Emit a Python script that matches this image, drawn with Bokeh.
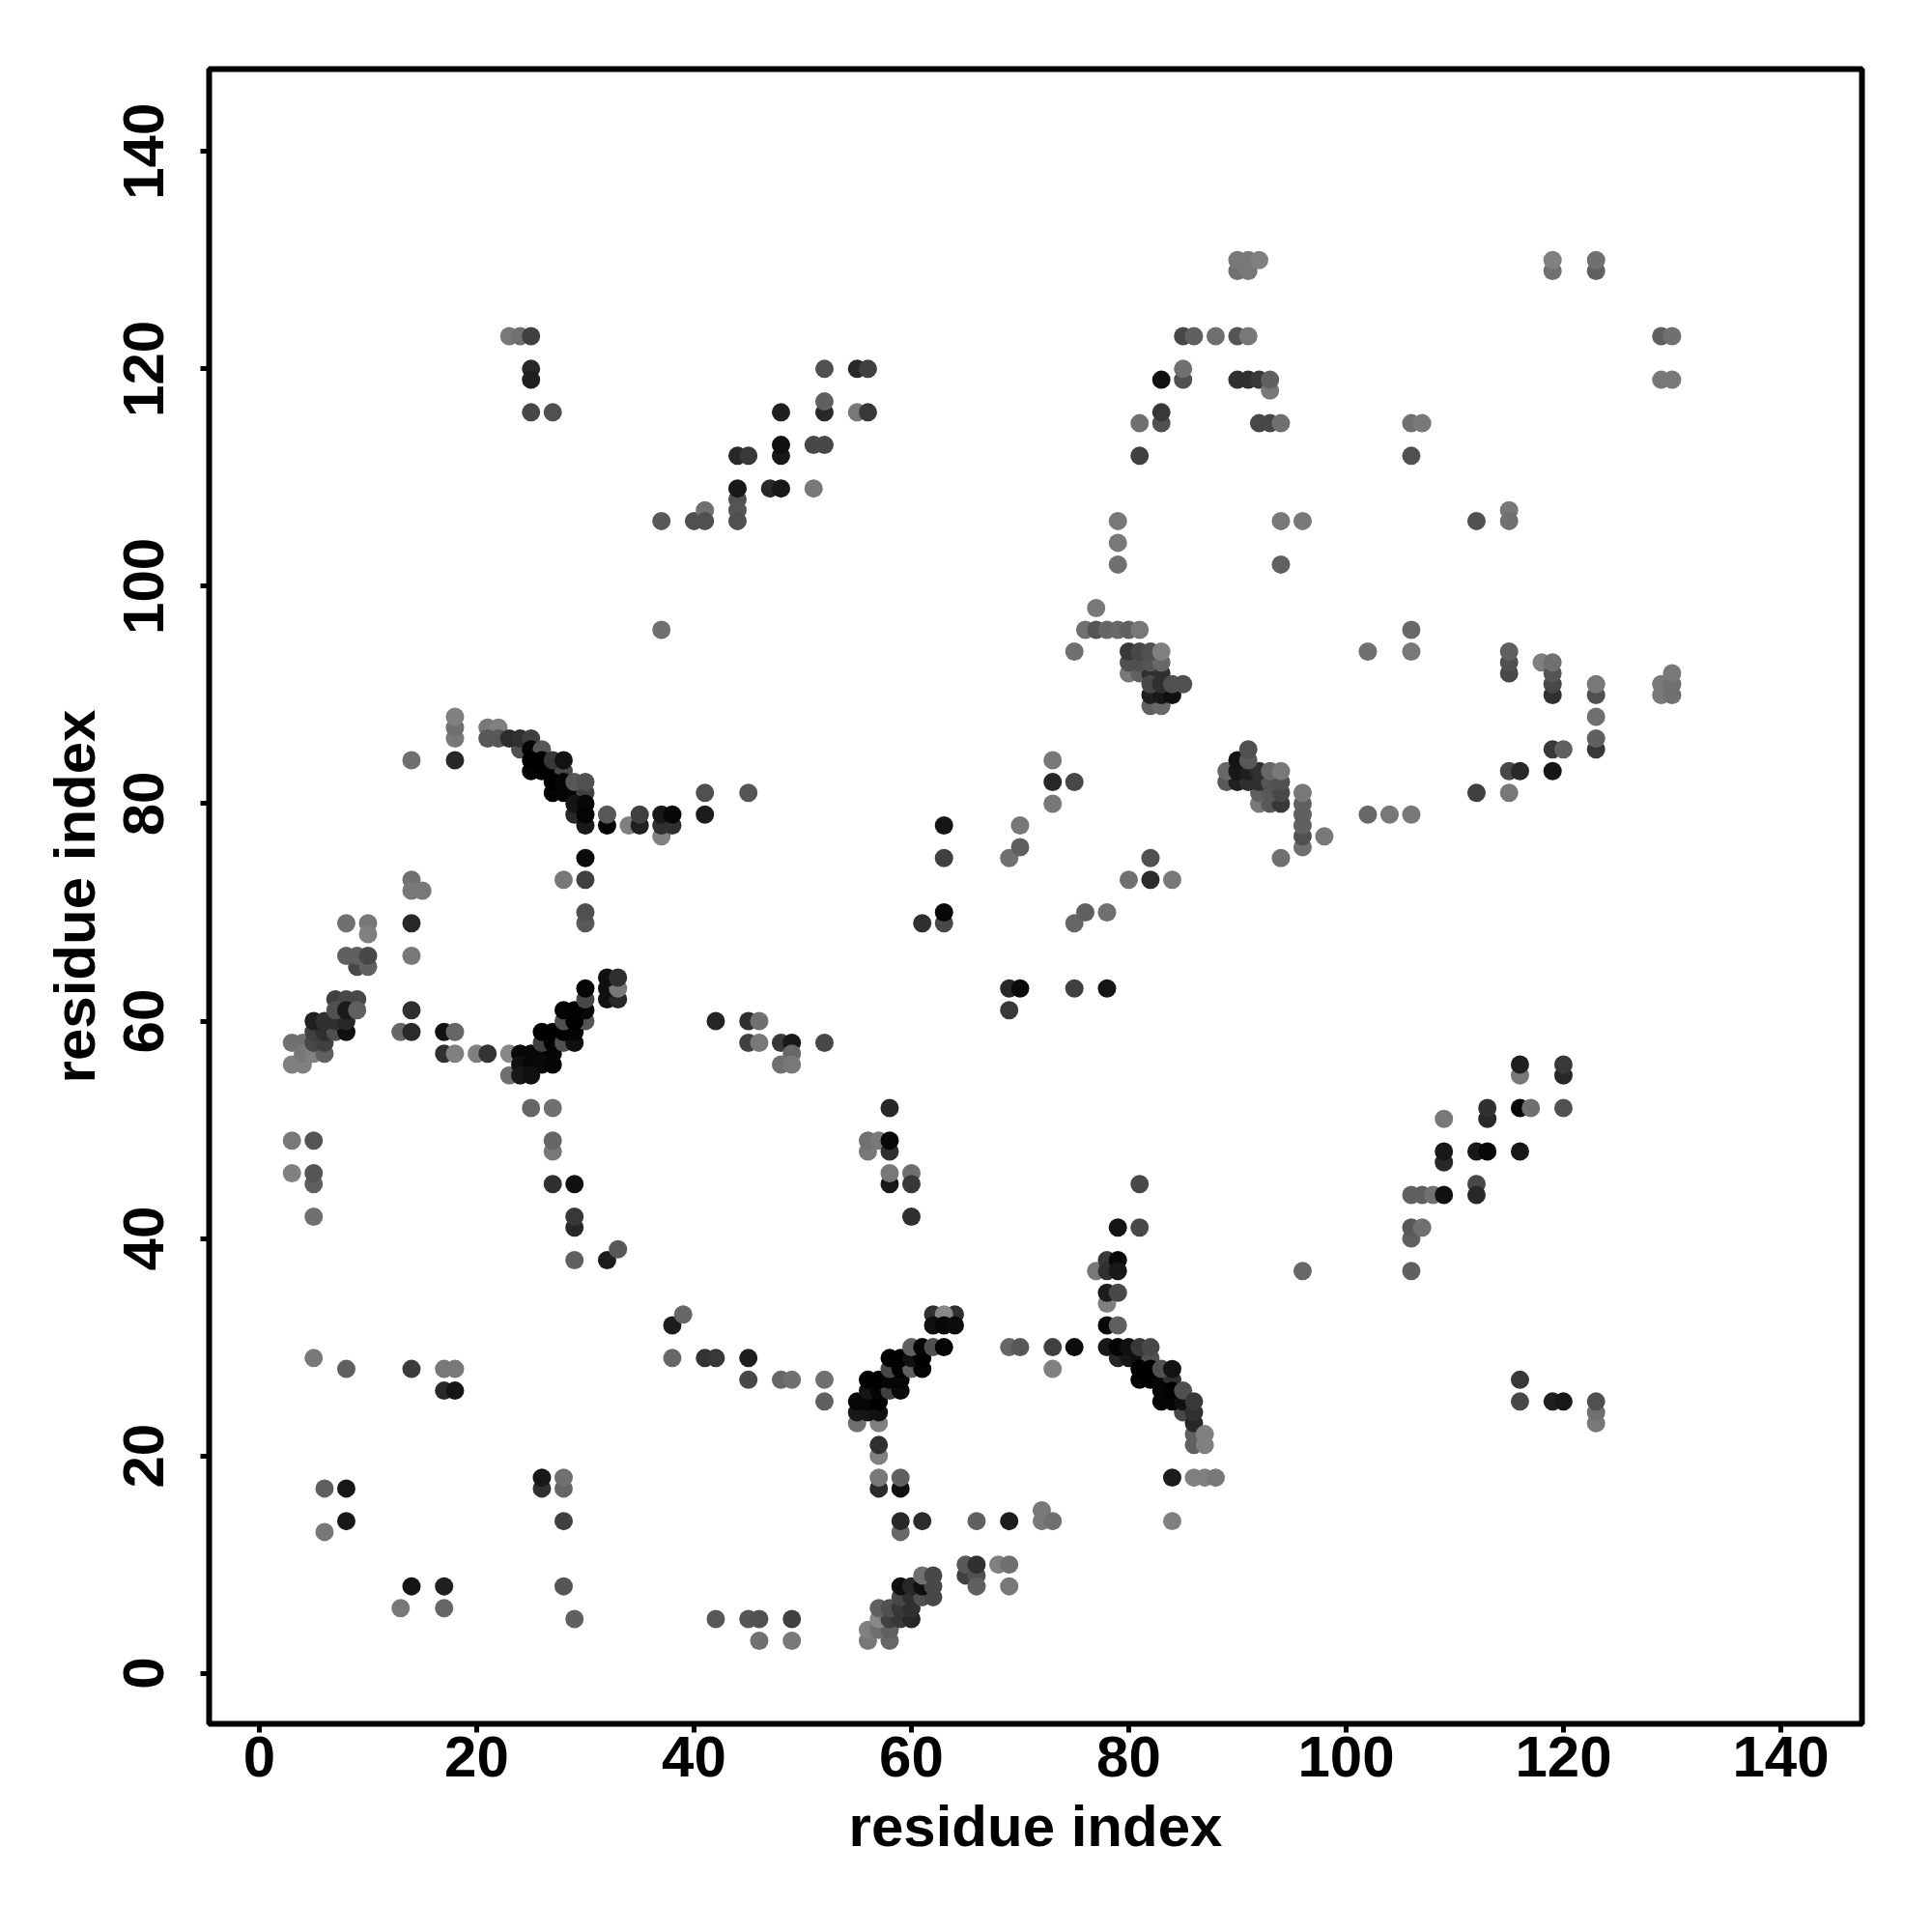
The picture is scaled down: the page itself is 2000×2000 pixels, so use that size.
from bokeh.plotting import figure
from bokeh.models import Range1d, ColumnDataSource
from bokeh.embed import file_html
from bokeh.resources import INLINE

tick_values = [0, 20, 40, 60, 80, 100, 120, 140]
x_label = "residue index"
y_label = "residue index"

# (residue i, residue j, grey level)
left_helix = [(3,58,0x70),(3,56,0x80),(4,56,0x80),(4,58,0x70),(4,57,0x78),(5,57,0x80),(6,57,0x60),(5,58,0x48),(6,58,0x40),
 (5,59,0x40),(6,59,0x30),(7,59,0x50),(8,59,0x0f),(5,60,0x20),(6,60,0x30),(7,60,0x30),(8,60,0x28),(7,62,0x40),(8,62,0x48),(9,62,0x48),
 (7,61,0x50),(8,61,0x1a),(9,61,0x60),(9,65,0x48),(10,65,0x60),(8,69,0x70),(10,69,0x78),(10,68,0x80),(8,66,0x60),(9,66,0x60),(10,66,0x48),
 (14,61,0x30),(13,59,0x66),(14,59,0x2a),(17,59,0x12),(18,59,0x66),(17,57,0x30),(18,57,0x80),(20,57,0x80),(21,57,0x33),
 (14,73,0x70),(14,72,0x78),(15,72,0x78),(14,69,0x28),(14,66,0x78)]
band_57 = [(23,57,0x88),(23,55,0x70),(24,57,0x08),(25,57,0x08),(26,57,0x08),(27,57,0x04),(24,56,0x10),(25,56,0x08),(26,56,0x0a),(27,56,0x05),
 (24,55,0x18),(25,55,0x10),(26,58,0x40),(27,58,0x04),(26,59,0x00),(27,59,0x00),(28,58,0x50),(29,58,0x10),(28,59,0x00),(29,59,0x05),
 (28,60,0x50),(30,60,0x55),(29,60,0x00),(30,61,0x08),(28,61,0x05),(29,61,0x02),(30,62,0x48),(30,63,0x05),
 (32,62,0x10),(33,62,0x28),(32,63,0x10),(33,63,0x78),(32,64,0x10),(33,64,0x30),
 (25,52,0x66),(27,52,0x70),(27,48,0x78),(27,49,0x66),(27,45,0x30),(29,45,0x10),(29,41,0x28),(29,42,0x38),(29,38,0x60),(32,38,0x1c),(33,39,0x58)]
far_left = [(3,49,0x78),(5,49,0x55),(3,46,0x80),(5,45,0x60),(5,46,0x55),(5,42,0x70),(5,29,0x78),(8,28,0x60),(14,28,0x3c),(17,28,0x78),(18,28,0x78),
 (17,26,0x2a),(18,26,0x15),(38,32,0x1c),(39,33,0x66),(38,29,0x66),
 (6,17,0x60),(8,17,0x18),(6,13,0x78),(8,14,0x18),(14,8,0x15),(17,8,0x20),(13,6,0x78),(17,6,0x66),
 (26,17,0x30),(26,18,0x18),(28,17,0x66),(28,18,0x70),(28,14,0x40),(28,8,0x55),(29,5,0x60),
 (42,5,0x58),(45,5,0x55),(46,5,0x50),(46,3,0x70),(49,5,0x40),(49,3,0x78),
 (41,29,0x33),(42,29,0x38),(45,29,0x1c),(45,27,0x48),(48,27,0x66),(49,27,0x70),(52,27,0x70),(52,25,0x60)]
band_25 = [(55,23,0x70),(57,23,0x80),(55,24,0x18),(56,24,0x15),(57,24,0x10),(55,25,0x08),(56,25,0x06),(57,25,0x00),
 (56,26,0x15),(57,26,0x05),(58,26,0x40),(59,26,0x0a),(56,27,0x00),(57,27,0x00),(58,27,0x05),(59,27,0x05),
 (58,28,0x48),(59,28,0x00),(60,28,0x60),(61,28,0x05),(58,29,0x00),(59,29,0x00),(60,29,0x10),(61,29,0x00),
 (60,30,0x60),(61,30,0x05),(62,30,0x50),(63,30,0x05),(62,33,0x30),(64,33,0x30),(63,33,0x88),(62,32,0x10),(63,32,0x08),(64,32,0x0c),
 (57,20,0x80),(57,21,0x30),(57,17,0x2a),(59,17,0x10),(57,18,0x78),(59,18,0x60),(59,13,0x68),(59,14,0x28),(61,14,0x2c),
 (66,14,0x60),(69,14,0x1c),(72,15,0x78),(72,14,0x78),(73,14,0x70),(69,30,0x66),(70,30,0x58),(73,30,0x40),(75,30,0x0c),(73,28,0x80)]
band_30 = [(77,37,0x78),(78,38,0x38),(78,37,0x30),(79,38,0x08),(79,37,0x18),(78,34,0x80),(78,35,0x1c),(79,35,0x48),(78,32,0x08),(79,32,0x60),
 (79,29,0x28),(80,29,0x18),(81,29,0x10),(82,29,0x50),(78,30,0x18),(79,30,0x05),(80,30,0x10),(81,30,0x38),(82,30,0x48),
 (81,27,0x05),(82,27,0x00),(83,27,0x08),(84,27,0x30),(81,28,0x00),(82,28,0x00),(83,28,0x50),(84,28,0x12),
 (85,24,0x48),(83,25,0x05),(84,25,0x05),(85,25,0x10),(83,26,0x05),(84,26,0x00),(85,26,0x50),(86,21,0x60),(86,22,0x60),(86,23,0x28),(86,24,0x30),(86,25,0x38),
 (87,21,0x80),(87,22,0x80),(84,18,0x1c),(86,18,0x80),(87,18,0x80),(88,18,0x78),(84,14,0x80)]
low_band = [(65,9,0x40),(65,10,0x58),(66,9,0x50),(66,10,0x30),(66,8,0x60),(68,10,0x80),(69,10,0x70),(69,8,0x78),
 (56,3,0x78),(58,3,0x68),(56,4,0x80),(57,4,0x70),(58,4,0x60),(57,5,0x88),(58,5,0x40),(59,5,0x38),(60,5,0x28),
 (57,6,0x60),(58,6,0x50),(59,6,0x38),(60,6,0x30),(59,7,0x48),(60,7,0x30),(61,7,0x50),(62,7,0x48),
 (59,8,0x10),(60,8,0x28),(61,8,0x10),(62,8,0x48),(61,9,0x70),(62,9,0x48)]
band_85 = [(21,87,0x78),(22,87,0x80),(21,86,0x58),(22,86,0x58),(24,85,0x50),(23,86,0x2c),(24,86,0x30),(25,86,0x40),(25,85,0x05),(26,85,0x58),
 (25,83,0x05),(26,83,0x00),(27,83,0x00),(28,83,0x48),(25,84,0x00),(26,84,0x00),(27,84,0x38),(28,84,0x12),
 (27,81,0x05),(28,81,0x05),(29,81,0x05),(30,81,0x40),(27,82,0x00),(28,82,0x05),(29,82,0x58),(30,82,0x50),
 (29,79,0x28),(30,78,0x18),(29,80,0x15),(30,80,0x08),(30,79,0x05),(32,78,0x05),(32,79,0x58),
 (34,78,0x80),(35,78,0x20),(35,79,0x40),(37,77,0x80),(37,78,0x30),(38,78,0x30),(37,79,0x18),(38,79,0x08),
 (41,81,0x50),(45,81,0x55),(41,79,0x1c),(30,75,0x0a),(28,73,0x78),(30,73,0x40),(30,69,0x58),(30,70,0x50),
 (14,84,0x70),(18,84,0x28),(18,86,0x78),(18,87,0x70),(18,88,0x80),
 (42,60,0x25),(45,60,0x30),(46,60,0x70),(45,58,0x40),(46,58,0x78),(48,58,0x38),(49,58,0x18),(52,58,0x48),(49,57,0x68),(48,56,0x70),(49,56,0x78)]
upper_left = [(23,123,0x78),(24,123,0x70),(25,123,0x40),(25,120,0x28),(25,119,0x20),(25,116,0x48),(27,116,0x50),
 (37,106,0x58),(40,106,0x50),(41,107,0x70),(41,106,0x50),(44,108,0x50),(44,107,0x55),(44,106,0x50),(44,109,0x18),(47,109,0x28),(48,109,0x18),(51,109,0x78),
 (44,112,0x28),(45,112,0x38),(48,112,0x18),(48,113,0x10),(48,116,0x20),(51,113,0x48),(52,113,0x48),(52,116,0x28),(52,117,0x60),
 (52,120,0x50),(55,120,0x28),(56,120,0x40),(55,116,0x78),(56,116,0x38),(37,96,0x70)]
upper_right = [(81,115,0x70),(81,112,0x40),(83,115,0x50),(83,116,0x38),(83,119,0x10),(85,119,0x50),(85,120,0x70),(85,123,0x48),(86,123,0x60),(88,123,0x70),(90,123,0x55),(91,123,0x78),
 (90,119,0x30),(91,119,0x30),(92,119,0x38),(93,118,0x78),(93,119,0x60),(92,115,0x48),(93,115,0x48),(94,115,0x70),
 (90,129,0x70),(91,129,0x78),(90,130,0x78),(91,130,0x78),(92,130,0x80),(119,129,0x70),(119,130,0x80),(123,129,0x60),(123,130,0x70),
 (129,123,0x60),(130,123,0x70),(129,119,0x78),(130,119,0x78),(106,115,0x70),(107,115,0x78),(106,112,0x50),
 (112,106,0x50),(115,107,0x78),(115,106,0x70),(79,106,0x78),(79,104,0x78),(79,102,0x70),(94,106,0x78),(96,106,0x78),(94,102,0x60)]
cluster_90 = [(77,98,0x78),(76,96,0x70),(77,96,0x55),(78,96,0x66),(79,96,0x68),(80,96,0x60),(81,96,0x78),(75,94,0x70),
 (82,89,0x60),(83,89,0x68),(82,90,0x20),(83,90,0x18),(84,90,0x10),(80,92,0x78),(81,92,0x60),(82,92,0x30),(83,92,0x30),(82,91,0x48),(83,91,0x30),(84,91,0x50),(85,91,0x50),
 (80,93,0x50),(81,93,0x50),(82,93,0x55),(83,93,0x68),(80,94,0x38),(81,94,0x48),(82,94,0x50),(83,94,0x80)]
cluster_83 = [(92,80,0x78),(93,80,0x58),(94,80,0x38),(92,81,0x60),(93,81,0x58),(94,81,0x48),(89,82,0x58),(90,82,0x20),(91,82,0x30),(92,82,0x30),(93,82,0x55),(94,82,0x50),
 (89,83,0x68),(90,83,0x18),(91,83,0x20),(92,83,0x30),(93,83,0x68),(94,83,0x78),(90,84,0x15),(91,84,0x58),(91,85,0x50),
 (96,76,0x70),(96,77,0x50),(96,78,0x60),(96,79,0x60),(96,80,0x60),(96,81,0x78),(98,77,0x78),(94,75,0x70),
 (102,79,0x68),(104,79,0x78),(106,79,0x78),(102,94,0x70),(106,96,0x68),(106,94,0x78)]
right_column = [(115,92,0x48),(115,93,0x50),(115,94,0x60),(118,93,0x80),(119,90,0x30),(119,91,0x48),(119,92,0x55),(119,93,0x70),
 (123,90,0x50),(123,91,0x78),(123,88,0x70),(123,85,0x38),(123,86,0x60),(119,85,0x38),(120,85,0x60),(119,83,0x15),(115,83,0x48),(116,83,0x28),(112,81,0x40),(115,81,0x78),
 (129,90,0x78),(130,90,0x70),(129,91,0x78),(130,91,0x70),(130,92,0x78)]
middle = [(63,78,0x15),(63,75,0x40),(63,69,0x48),(63,70,0x08),(61,69,0x30),(69,75,0x70),(70,76,0x60),(70,78,0x78),(73,84,0x78),(73,82,0x28),(75,82,0x48),(73,80,0x78),
 (75,69,0x66),(76,70,0x60),(78,70,0x70),(82,75,0x50),(80,73,0x70),(82,73,0x2c),(84,73,0x78),
 (69,61,0x38),(69,63,0x28),(70,63,0x0c),(75,63,0x40),(78,63,0x15)]
lower_right = [(56,48,0x78),(56,49,0x70),(57,49,0x78),(58,52,0x28),(58,48,0x30),(58,49,0x08),(58,45,0x18),(58,46,0x78),(60,46,0x70),(60,45,0x38),(60,42,0x30),
 (81,45,0x48),(81,41,0x48),(79,41,0x15),(96,37,0x68),(106,44,0x60),(107,44,0x60),(108,44,0x70),(109,44,0x10),(109,47,0x28),(109,48,0x18),(109,51,0x78),
 (106,40,0x60),(106,41,0x58),(107,41,0x70),(106,37,0x60),(112,45,0x48),(112,44,0x28),(112,48,0x18),(113,48,0x08),(113,51,0x28),(113,52,0x30),
 (116,52,0x08),(117,52,0x70),(116,48,0x18),(116,55,0x78),(116,56,0x20),(120,55,0x28),(120,56,0x38),(120,52,0x50),
 (116,25,0x48),(116,27,0x38),(119,25,0x20),(120,25,0x18),(123,23,0x78),(123,24,0x70),(123,25,0x50)]

regions = [left_helix, band_57, far_left, band_25, band_30, low_band, band_85, upper_left,
           upper_right, cluster_90, cluster_83, right_column, middle, lower_right]
xs, ys, colors = [], [], []
for region in regions:
    for i, j, g in region:
        xs.append(i)
        ys.append(j)
        colors.append(f"#{g:02x}{g:02x}{g:02x}")

source = ColumnDataSource(dict(x=xs, y=ys, color=colors))

p = figure(width=1984, height=1984, output_backend="svg", toolbar_location=None,
           x_range=Range1d(-4.62, 147.47), y_range=Range1d(-4.65, 147.58),
           min_border_left=216, min_border_right=57, min_border_top=71, min_border_bottom=200,
           background_fill_color="white", border_fill_color="white")
p.grid.visible = False
p.outline_line_color = "black"
p.outline_line_width = 6

p.scatter("x", "y", source=source, size=19, color="color", line_color=None)

for ax in (p.xaxis[0], p.yaxis[0]):
    ax.ticker = tick_values
    ax.minor_tick_line_color = None
    ax.axis_line_color = None
    ax.major_tick_line_color = "black"
    ax.major_tick_line_width = 5
    ax.major_tick_in = 0
    ax.major_tick_out = 9
    ax.major_label_text_font = "Liberation Sans"
    ax.major_label_text_font_style = "bold"
    ax.major_label_text_font_size = "60px"
    ax.major_label_text_color = "black"
    ax.axis_label_text_font = "Liberation Sans"
    ax.axis_label_text_font_style = "bold"
    ax.axis_label_text_font_size = "60px"
    ax.axis_label_text_color = "black"

p.xaxis[0].axis_label = x_label
p.yaxis[0].axis_label = y_label
p.yaxis[0].major_label_orientation = "vertical"
p.xaxis[0].major_label_standoff = 4
p.yaxis[0].major_label_standoff = 38
p.xaxis[0].axis_label_standoff = 15
p.yaxis[0].axis_label_standoff = 15

open("out.html", "w").write(file_html(p, INLINE))
